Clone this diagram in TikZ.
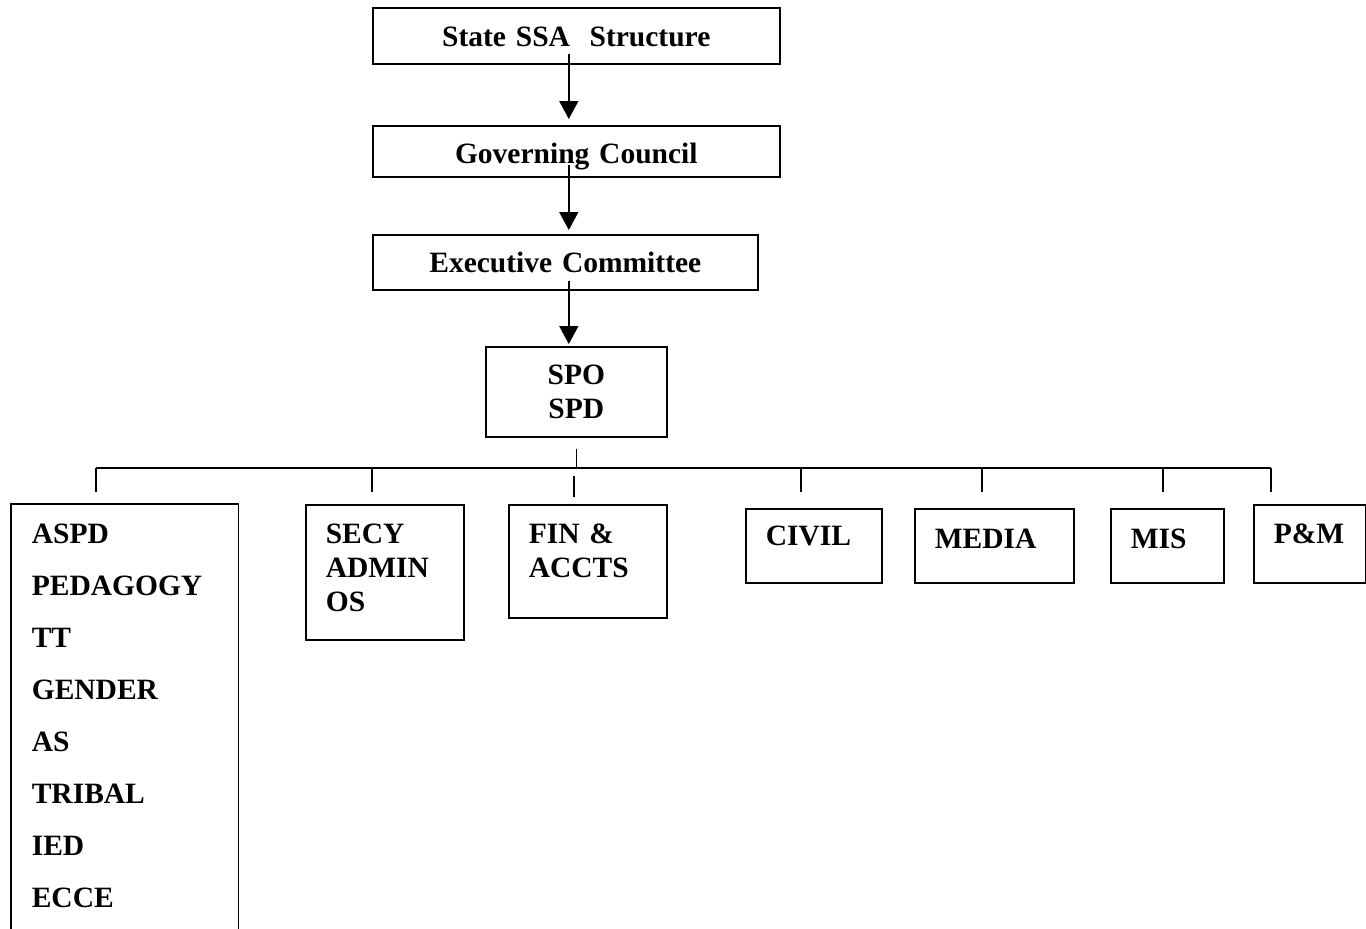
\documentclass[tikz,border=0pt]{standalone}
\usepackage{fontspec}
\setmainfont{Liberation Serif}
\usetikzlibrary{arrows.meta}

\begin{document}
\begin{tikzpicture}[x=1pt,y=-1pt,line width=1.6pt,
  box/.style={draw,anchor=north west,inner xsep=20pt,inner ysep=0pt,align=left,font=\bfseries\fontsize{29.5}{34}\selectfont},
  tip/.style={-{Triangle[length=18pt,width=19pt]}}]
\useasboundingbox (0,0) rectangle (1366,929);
\node [box,align=center,text width=367pt,text height=39pt,text depth=17pt] (n0) at (372,7) {State SSA~ Structure};
\node [box,align=center,text width=367pt,text height=38pt,text depth=13pt] (n1) at (372,125) {Governing Council};
\node [box,align=center,text width=345pt,text height=38pt,text depth=17pt] (n2) at (372,234) {Executive Committee};
\node [box,align=center,text width=141pt,text height=38pt,text depth=52pt] (n3) at (485,346) {SPO\\SPD};
\node [box,draw=none,text width=186pt,text height=39pt,text depth=386pt,font=\bfseries\fontsize{29.5}{52}\selectfont] (n40) at (11,504) {ASPD\\PEDAGOGY\\TT\\GENDER\\AS\\TRIBAL\\IED\\ECCE};
\node [box,text width=118pt,text height=39pt,text depth=96pt] (n41) at (305,504) {SECY\\ADMIN\\OS};
\node [box,text width=118pt,text height=39pt,text depth=74pt] (n42) at (508,504) {FIN \&\\ACCTS};
\node [box,text width=96pt,text height=37pt,text depth=37pt] (n43) at (745,508) {CIVIL};
\node [box,text width=119pt,text height=40pt,text depth=34pt] (n44) at (914,508) {MEDIA};
\node [box,text width=73pt,text height=40pt,text depth=34pt] (n45) at (1110,508) {MIS};
\node [box,text width=72pt,text height=39pt,text depth=39pt] (n46) at (1253,504) {P\&M};
\draw (n40.south west) |- (n40.north east) -- (n40.south east);
\draw [tip] ([shift={(-7.5,-11)}]n0.south) -- ([shift={(-7.5,-6)}]n1.north);
\draw [tip] ([shift={(-7.5,-13)}]n1.south) -- ([shift={(3.5,-4)}]n2.north);
\draw [tip] ([shift={(3.5,-10)}]n2.south) -- ([shift={(-7.5,-2)}]n3.north);
\coordinate (d0) at (96,468);
\coordinate (d1) at (372,468);
\coordinate (d2) at (574,468);
\coordinate (d3) at (801,468);
\coordinate (d4) at (982,468);
\coordinate (d5) at (1163,468);
\coordinate (d6) at (1271,468);
\draw (d0) -- (d6);
\draw ([yshift=-11pt]n3.south) -- (n3.south |- d0);
\foreach \i in {0,1,3,4,5,6}
  \draw (d\i) -- ([yshift=-24pt]d\i);
\draw ([yshift=-8pt]d2) -- ([yshift=-29pt]d2);
\end{tikzpicture}
\end{document}
